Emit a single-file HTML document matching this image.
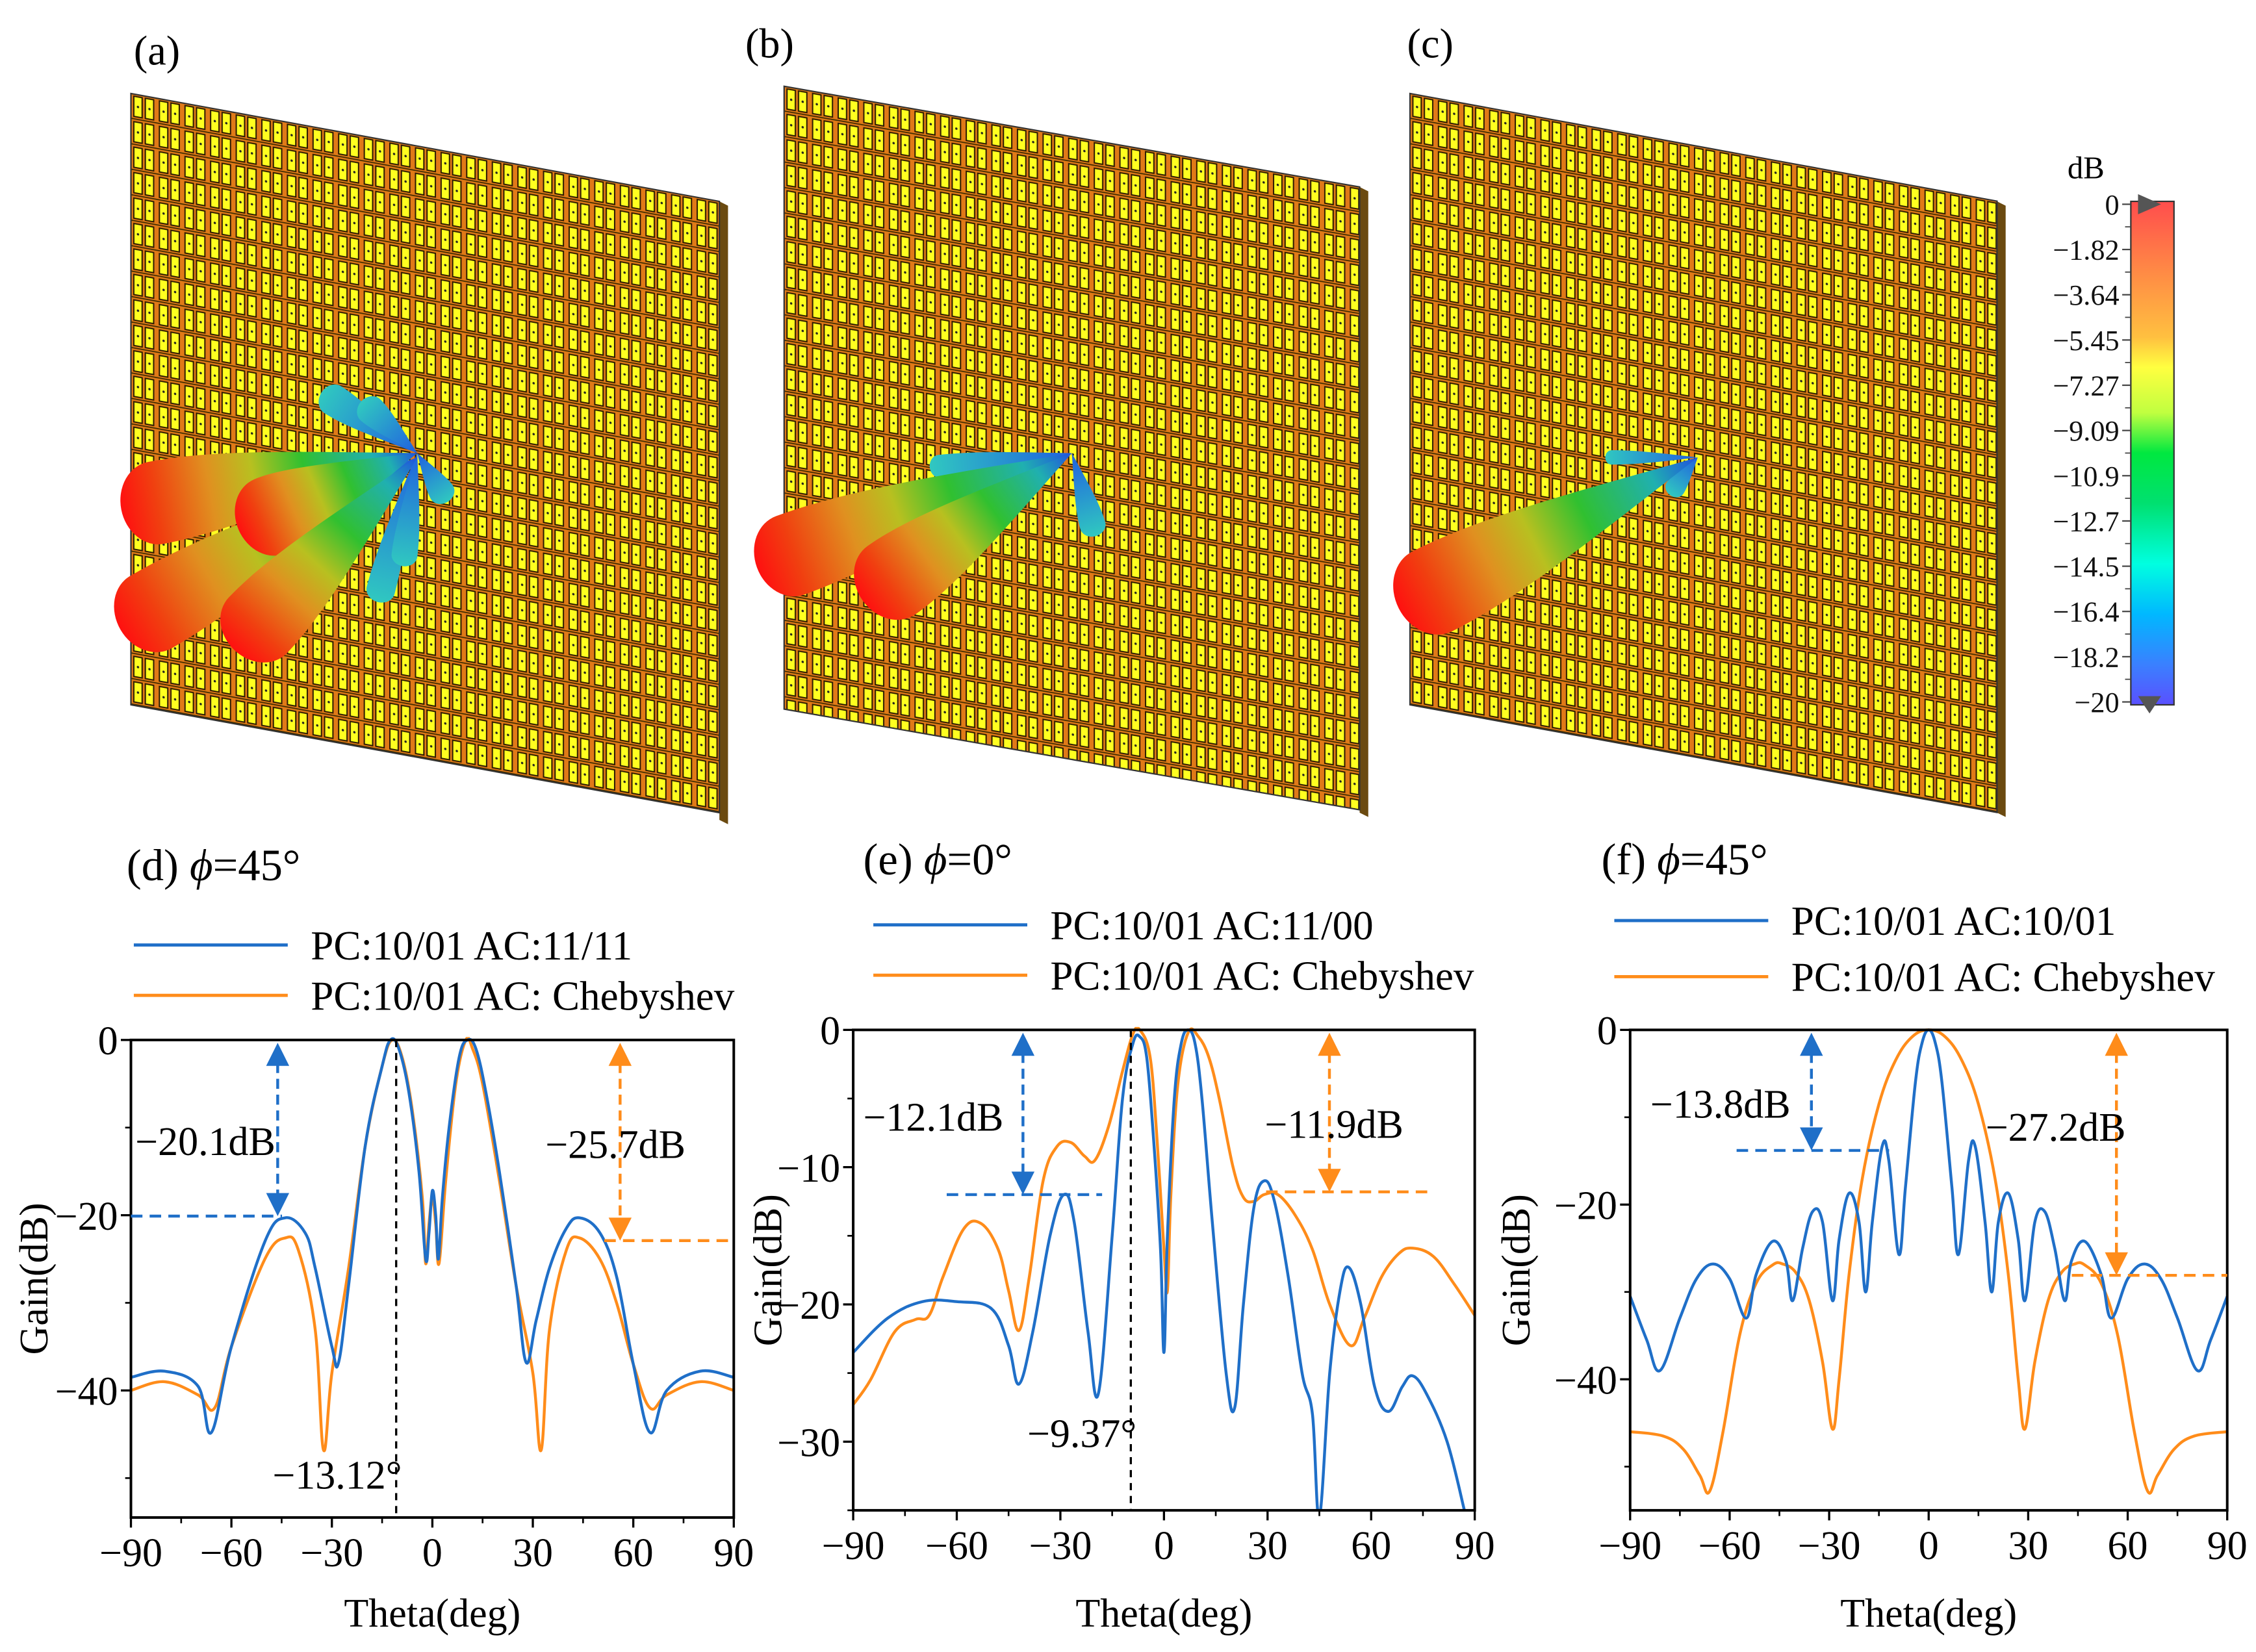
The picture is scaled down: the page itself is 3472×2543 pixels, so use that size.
<!DOCTYPE html>
<html><head><meta charset="utf-8">
<style>
html,body{margin:0;padding:0;background:#fff;}
svg{display:block;font-family:"Liberation Serif",serif;}
</style></head>
<body>
<svg id="fig" width="3472" height="2543" viewBox="0 0 1568 1148.5" preserveAspectRatio="none" xmlns="http://www.w3.org/2000/svg">
<defs>
  <pattern id="cells" width="17.8" height="17.7" patternUnits="userSpaceOnUse">
    <rect width="17.8" height="17.7" fill="#e07a18"/>
    <rect x="2" y="1.5" width="5.8" height="14" fill="#ffff20" stroke="#2a1a00" stroke-width="0.9"/>
    <rect x="10" y="1.5" width="5.8" height="14" fill="#ffff20" stroke="#2a1a00" stroke-width="0.9"/>
    <circle cx="4.9" cy="8.5" r="0.8" fill="#222"/>
    <circle cx="12.9" cy="8.5" r="0.8" fill="#222"/>
    <line x1="0" y1="17.2" x2="17.8" y2="17.2" stroke="#3a2a00" stroke-width="0.8"/>
  </pattern>
  <linearGradient id="cbar" x1="0" y1="0" x2="0" y2="1">
    <stop offset="0" stop-color="#ff4d4d"/><stop offset="0.14" stop-color="#ff8a45"/>
    <stop offset="0.27" stop-color="#ffc040"/><stop offset="0.33" stop-color="#ffff40"/>
    <stop offset="0.42" stop-color="#c0ff40"/><stop offset="0.5" stop-color="#00e840"/>
    <stop offset="0.6" stop-color="#00e070"/><stop offset="0.72" stop-color="#00ffe0"/>
    <stop offset="0.82" stop-color="#00b8ff"/><stop offset="0.92" stop-color="#3a80ff"/>
    <stop offset="1" stop-color="#5a50ff"/>
  </linearGradient>
  <linearGradient id="mainLobe" x1="0" y1="0" x2="1" y2="0">
    <stop offset="0" stop-color="#ff1010"/><stop offset="0.12" stop-color="#f04010"/>
    <stop offset="0.3" stop-color="#e09020"/><stop offset="0.45" stop-color="#b8c020"/>
    <stop offset="0.62" stop-color="#30c030"/><stop offset="0.85" stop-color="#20b0b0"/>
    <stop offset="1" stop-color="#2050e0"/>
  </linearGradient>
  <linearGradient id="sideLobe" x1="0" y1="0" x2="1" y2="0">
    <stop offset="0" stop-color="#30c8c0"/><stop offset="1" stop-color="#2060e0"/>
  </linearGradient>
</defs>

<text x="93" y="45" font-size="29">(a)</text>
<text x="518" y="40" font-size="29">(b)</text>
<text x="978" y="40" font-size="29">(c)</text>

<g>
  <polygon points="500,140 506,143 506,573 500,570" fill="#6b4a10"/>
  <g transform="matrix(1,0.1834,0,1,91,65)"><rect width="409" height="425" fill="url(#cells)" stroke="#333" stroke-width="1"/></g>
</g>
<g>
  <polygon points="945,130 951,133 951,568 945,565" fill="#6b4a10"/>
  <g transform="matrix(1,0.175,0,1,545,60)"><rect width="400" height="433" fill="url(#cells)" stroke="#333" stroke-width="1"/></g>
</g>
<g>
  <polygon points="1388,140 1394,143 1394,568 1388,565" fill="#6b4a10"/>
  <g transform="matrix(1,0.1834,0,1,980,65)"><rect width="408" height="425" fill="url(#cells)" stroke="#333" stroke-width="1"/></g>
</g>
<g id="lobes"></g>

<g>
  <text x="1437" y="124" font-size="22">dB</text>
  <rect x="1481" y="140" width="30" height="350" fill="url(#cbar)" stroke="#333" stroke-width="1"/>
  <polygon points="1486,135 1502,142 1486,149" fill="#555"/>
  <polygon points="1486,484 1502,484 1494,496" fill="#555"/>
  <g id="cbticks"></g>
</g>

<g id="plots"></g>
</svg>
<script>
const NS="http://www.w3.org/2000/svg";
const svg=document.getElementById('fig');
function mk(tag,attrs,parent){const e=document.createElementNS(NS,tag);for(const k in attrs)e.setAttribute(k,attrs[k]);(parent||svg).appendChild(e);return e;}

const cbLabels=["0","−1.82","−3.64","−5.45","−7.27","−9.09","−10.9","−12.7","−14.5","−16.4","−18.2","−20"];
const cbg=document.getElementById('cbticks');
cbLabels.forEach((l,i)=>{
  const y=142+i*(346/11);
  const ln=mk('line',{x1:1475,x2:1481,y1:y,y2:y,stroke:'#444','stroke-width':1},cbg);
  
  
  const t=mk('text',{x:1473,y:y+7,'font-size':20,'text-anchor':'end',fill:'#111'},cbg);
  
  
  t.textContent=l;
  if(i<11){const m=mk('line',{x1:1477,x2:1481,y1:y+15.7,y2:y+15.7,stroke:'#444','stroke-width':0.8},cbg);
  
  }
});

const lg=document.getElementById('lobes');
function lobe(sx,sy,tx,ty,w,main){
  const dx=sx-tx,dy=sy-ty,L=Math.hypot(dx,dy),a=Math.atan2(dy,dx)*180/Math.PI;
  const r=w*0.5;
  const d=`M${L},0 C${L*0.6},${-w*0.3} ${L*0.35},${-r} ${r},${-r} A${r*0.85} ${r} 0 0 0 ${r},${r} C${L*0.35},${r} ${L*0.6},${w*0.3} ${L},0 Z`;
  const e=mk('path',{d:d,fill:main?'url(#mainLobe)':'url(#sideLobe)',transform:`translate(${tx},${ty}) rotate(${a})`},lg);
  
  
}
lobe(290,315,222,272,22,false);lobe(290,315,250,278,20,false);lobe(290,315,262,420,20,false);lobe(290,315,312,350,18,false);lobe(290,315,280,395,18,false);
lobe(290,315,80,355,58,true);lobe(290,318,80,440,58,true);lobe(290,315,162,370,56,true);lobe(290,318,160,455,56,true);
lobe(745,315,645,325,16,false);lobe(745,315,762,374,18,false);
lobe(745,315,522,396,58,true);lobe(745,315,596,420,58,true);
lobe(1180,318,1115,318,10,false);lobe(1180,318,1160,345,14,false);
lobe(1180,318,968,425,62,true);

// ---------- chart data ----------
const xTickLabels=["−90","−60","−30","0","30","60","90"];
const xTickValues=[-90,-60,-30,0,30,60,90];

const dBlueTheta=[-90,-80,-70,-66,-60,-50,-44,-38,-35,-30,-28,-25,-20,-15,-12.5,-10,-7,-4,-2,-1,0,1,1.8,3,5,8,10.5,13,16,20,25,28,31,35,40,44,50,55,60,65,70,80,90];
const dBlueGain=[-38.5,-37.8,-39.5,-44.8,-35,-23,-20.3,-22,-26,-35,-36.8,-28,-12,-3,0,-1,-6,-15,-25,-22,-17.2,-20,-25,-18,-10,-2,0,-1,-6,-15,-28,-36.8,-32,-26,-21.5,-20.3,-22,-27,-37,-44.8,-40,-37.8,-38.5];
const dOrangeTheta=[-90,-80,-70,-65,-60,-50,-44,-40,-35,-32.5,-30,-25,-20,-15,-12,-9,-6,-3,-2,-1,0,1,2,4,7,10,12,15,20,25,30,32.5,35,40,44,50,55,60,65,70,80,90];
const dOrangeGain=[-40,-39,-40.5,-42,-35,-25,-22.6,-24,-33,-46.8,-38,-26,-12,-3,0,-2,-8,-18,-25.5,-21,-18,-21,-25.5,-16,-5,0,-1,-5,-16,-28,-38,-46.8,-33,-24,-22.6,-25,-30,-37,-42,-40.5,-39,-40];

const eBlueTheta=[-90,-80,-70,-60,-50,-45,-42,-38,-33,-29,-26,-22,-19,-15,-12,-9,-7,-5,-3,-1,0,1,3,5,7,9,11,14,18,20.5,23,26,29,32,36,40,43,45,48,51,53.5,57,61,65,69,72,76,82,87];
const eBlueGain=[-23.5,-21,-19.8,-19.8,-20.3,-23,-25.8,-22,-15,-12,-14,-22,-26.5,-15,-5,-1,-0.5,-2,-8,-16,-23.5,-15,-5,-1,0,-1,-5,-14,-25,-27.5,-20,-13,-11,-12.5,-18,-25,-28,-35.5,-25,-19,-17.3,-20,-26,-27.8,-26,-25.2,-26.5,-30,-35];
const eOrangeTheta=[-90,-85,-78,-72,-68,-64,-58,-53,-48,-45,-42,-39,-35,-31,-27,-23,-20,-16,-12,-9,-7,-4,-2,0,1,2,4,7,10,13,16,20,23,26,29,33,38,43,48,54,58,63,68,72,78,84,90];
const eOrangeGain=[-27.3,-25.5,-22,-21.1,-20.8,-18,-14.5,-14.1,-16,-19,-21.9,-18,-11,-8.5,-8.2,-9.2,-9.5,-7,-3,-0.3,0,-2,-8,-16,-19,-12,-4,-0.2,-0.5,-2,-5,-10,-12.2,-12.5,-12,-12,-13.5,-16,-20,-23,-21,-18,-16.3,-15.9,-16.5,-18.5,-20.8];

const fBlueTheta=[-90,-85,-81,-75,-70,-65,-60,-55,-52,-47,-43,-41,-38,-35,-32,-29,-27,-24,-21,-19,-17,-14,-12,-9,-7,-4,-2,0,2,4,7,9,12,14,17,19,21,24,27,29,32,35,38,41,43,47,52,55,60,65,70,75,81,85,90];
const fBlueGain=[-30.5,-35.5,-39,-33,-28.5,-26.8,-28.5,-33,-28,-24.2,-26.5,-31,-25,-20.8,-22,-31,-24,-18.7,-22,-30,-22,-13.3,-15,-25.7,-18,-6,-1.5,0,-1.5,-6,-18,-25.7,-15,-13.3,-22,-30,-22,-18.7,-24,-31,-22,-20.8,-25,-31,-26.5,-24.2,-28,-33,-28.5,-26.8,-28.5,-33,-39,-35.5,-30.5];
const fOrangeTheta=[-90,-80,-74,-69,-66,-62,-57,-52,-47,-44,-40,-36,-32,-29,-27,-24,-20,-15,-10,-5,0,5,10,15,20,24,27,29,32,36,40,44,47,52,57,62,66,69,74,80,90];
const fOrangeGain=[-46,-46.5,-48,-51,-52.8,-46,-35,-29,-26.9,-26.8,-27.8,-31,-38,-45.7,-40,-28,-17,-8.5,-3.5,-0.8,0,-0.8,-3.5,-8.5,-17,-28,-40,-45.7,-38,-31,-27.8,-26.8,-26.9,-29,-35,-46,-52.8,-51,-48,-46.5,-46];

const dYTicks=[0,-20,-40];const dYLabels=["0","−20","−40"];
const eYTicks=[0,-10,-20,-30];const eYLabels=["0","−10","−20","−30"];
const fYTicks=[0,-20,-40];const fYLabels=["0","−20","−40"];

const BLUE='#1f6fc8',ORANGE='#ff8c1a';

function smooth(pts){
  let d=`M${pts[0][0]},${pts[0][1]}`;
  for(let i=0;i<pts.length-1;i++){
    const p0=pts[Math.max(0,i-1)],p1=pts[i],p2=pts[i+1],p3=pts[Math.min(pts.length-1,i+2)];
    const t=0.18;
    const c1=[p1[0]+(p2[0]-p0[0])*t,p1[1]+(p2[1]-p0[1])*t];
    const c2=[p2[0]-(p3[0]-p1[0])*t,p2[1]-(p3[1]-p1[1])*t];
    d+=` C${c1[0].toFixed(2)},${c1[1].toFixed(2)} ${c2[0].toFixed(2)},${c2[1].toFixed(2)} ${p2[0].toFixed(2)},${p2[1].toFixed(2)}`;
  }
  return d;
}

function plot(cfg){
  const g=mk('g',{},document.getElementById('plots'));
  
  
  const X=v=>cfg.x0+(v+90)/180*(cfg.x1-cfg.x0);
  const Y=v=>cfg.y0+(v/cfg.ymin)*(cfg.y1-cfg.y0);
  const cid='clip'+cfg.name;
  const cp=mk('clipPath',{id:cid},svg.querySelector('defs'));
  mk('rect',{x:cfg.x0,y:cfg.y0-2,width:cfg.x1-cfg.x0,height:cfg.y1-cfg.y0+2},cp);
  const tt=mk('text',{x:cfg.tx,y:cfg.ty,'font-size':31},g);
  
  
  tt.innerHTML=cfg.title;
  [[cfg.leg1,BLUE,cfg.ly1],[cfg.leg2,ORANGE,cfg.ly2]].forEach(([txt,c,ly])=>{
    const le=mk('g',{},g);
    
    
    mk('line',{x1:cfg.lx,x2:cfg.lx+107,y1:ly,y2:ly,stroke:c,'stroke-width':2.2},le);
    const t=mk('text',{x:cfg.lx+123,y:ly+10,'font-size':28.5},le);t.textContent=txt;
  });
  [[cfg.ot,cfg.og,ORANGE,'orange-series'],[cfg.bt,cfg.bg,BLUE,'blue-series']].forEach(([th,gv,c,nm])=>{
    const pts=th.map((t,i)=>[X(t),Y(gv[i])]);
    const p=mk('path',{d:smooth(pts),fill:'none',stroke:c,'stroke-width':2,'clip-path':`url(#${cid})`},g);
    
    
  });
  const ax=mk('rect',{x:cfg.x0,y:cfg.y0,width:cfg.x1-cfg.x0,height:cfg.y1-cfg.y0,fill:'none',stroke:'#000','stroke-width':1.8},g);
  
  
  xTickValues.forEach((v,i)=>{
    const x=X(v);
    mk('line',{x1:x,x2:x,y1:cfg.y1,y2:cfg.y1+7,stroke:'#000','stroke-width':1.5},g);
    if(i<6){const xm=X(v+15);mk('line',{x1:xm,x2:xm,y1:cfg.y1,y2:cfg.y1+4,stroke:'#000','stroke-width':1.2},g);}
    const t=mk('text',{x:x,y:cfg.y1+34,'font-size':28,'text-anchor':'middle'},g);
    
    
    t.textContent=xTickLabels[i];
  });
  cfg.yt.forEach((v,i)=>{
    const y=Y(v);
    mk('line',{x1:cfg.x0-7,x2:cfg.x0,y1:y,y2:y,stroke:'#000','stroke-width':1.5},g);
    const ym=Y(v-cfg.ystep/2);
    if(ym<=cfg.y1)mk('line',{x1:cfg.x0-4,x2:cfg.x0,y1:ym,y2:ym,stroke:'#000','stroke-width':1.2},g);
    const t=mk('text',{x:cfg.x0-9,y:y+10,'font-size':28,'text-anchor':'end'},g);
    
    
    t.textContent=cfg.yl[i];
  });
  const xt=mk('text',{x:(cfg.x0+cfg.x1)/2,y:1131,'font-size':28,'text-anchor':'middle'},g);
  
  
  xt.textContent='Theta(deg)';
  const ycx=cfg.ytx,ycy=(cfg.y0+cfg.y1)/2;
  const yt=mk('text',{x:ycx,y:ycy,'font-size':28,'text-anchor':'middle',transform:`rotate(-90 ${ycx} ${ycy})`},g);
  
  
  yt.textContent='Gain(dB)';
  function arrow(x,ya,yb,c){
    const a=mk('g',{},g);
    
    
    mk('line',{x1:x,x2:x,y1:ya+14,y2:yb-14,stroke:c,'stroke-width':2,'stroke-dasharray':'7,4'},a);
    mk('polygon',{points:`${x-8},${ya+16} ${x+8},${ya+16} ${x},${ya}`,fill:c},a);
    mk('polygon',{points:`${x-8},${yb-16} ${x+8},${yb-16} ${x},${yb}`,fill:c},a);
  }
  function hdash(xa,xb,y,c){
    const l=mk('line',{x1:xa,x2:xb,y1:y,y2:y,stroke:c,'stroke-width':2,'stroke-dasharray':'8,5'},g);
    
    
  }
  const A=cfg.ann;
  arrow(A.bx,cfg.y0+2,Y(A.bl),BLUE);hdash(A.bh[0],A.bh[1],Y(A.bl),BLUE);
  arrow(A.ox,cfg.y0+2,Y(A.ol),ORANGE);hdash(A.oh[0],A.oh[1],Y(A.ol),ORANGE);
  if(A.vt){
    const vl=mk('line',{x1:X(A.vx),x2:X(A.vx),y1:cfg.y0,y2:cfg.y1,stroke:'#000','stroke-width':1.5,'stroke-dasharray':'5,4'},g);
    
    
    const t=mk('text',{x:X(A.vx)+4,y:A.vty,'font-size':28,'text-anchor':'end'},g);t.textContent=A.vt;
    
    
  }
  [[A.bt,A.btx,A.bty],[A.ot,A.otx,A.oty]].forEach(([s,x,y])=>{
    const t=mk('text',{x:x,y:y,'font-size':28},g);t.textContent=s;
    
    
  });
}

plot({name:'plot-d',x0:91,x1:510,y0:723,y1:1055,ymin:-54.5,ystep:20,yt:dYTicks,yl:dYLabels,ytx:33,
  tx:88,ty:612,title:'(d) <tspan font-style="italic">ϕ</tspan>=45°',lx:93,ly1:657,ly2:692,
  leg1:'PC:10/01 AC:11/11',leg2:'PC:10/01 AC: Chebyshev',bt:dBlueTheta,bg:dBlueGain,ot:dOrangeTheta,og:dOrangeGain,
  ann:{bx:193,bl:-20.1,bh:[91,196],ox:431,ol:-22.9,oh:[420,510],vx:-10.8,vt:'−13.12°',vty:1035,
       bt:'−20.1dB',btx:94,bty:803,ot:'−25.7dB',otx:379,oty:805}});
plot({name:'plot-e',x0:593,x1:1025,y0:716,y1:1050,ymin:-35,ystep:10,yt:eYTicks,yl:eYLabels,ytx:543,
  tx:600,ty:608,title:'(e) <tspan font-style="italic">ϕ</tspan>=0°',lx:607,ly1:643,ly2:678,
  leg1:'PC:10/01 AC:11/00',leg2:'PC:10/01 AC: Chebyshev',bt:eBlueTheta,bg:eBlueGain,ot:eOrangeTheta,og:eOrangeGain,
  ann:{bx:711,bl:-12,bh:[658,766],ox:924,ol:-11.8,oh:[880,993],vx:-9.6,vt:'−9.37°',vty:1006,
       bt:'−12.1dB',btx:600,bty:786,ot:'−11.9dB',otx:879,oty:791}});
plot({name:'plot-f',x0:1133,x1:1548,y0:716,y1:1050,ymin:-55,ystep:20,yt:fYTicks,yl:fYLabels,ytx:1063,
  tx:1113,ty:608,title:'(f) <tspan font-style="italic">ϕ</tspan>=45°',lx:1122,ly1:640,ly2:679,
  leg1:'PC:10/01 AC:10/01',leg2:'PC:10/01 AC: Chebyshev',bt:fBlueTheta,bg:fBlueGain,ot:fOrangeTheta,og:fOrangeGain,
  ann:{bx:1259,bl:-13.8,bh:[1207,1313],ox:1471,ol:-28.1,oh:[1440,1548],vx:0,vt:'',vty:0,
       bt:'−13.8dB',btx:1147,bty:777,ot:'−27.2dB',otx:1380,oty:793}});
</script>
</body></html>
